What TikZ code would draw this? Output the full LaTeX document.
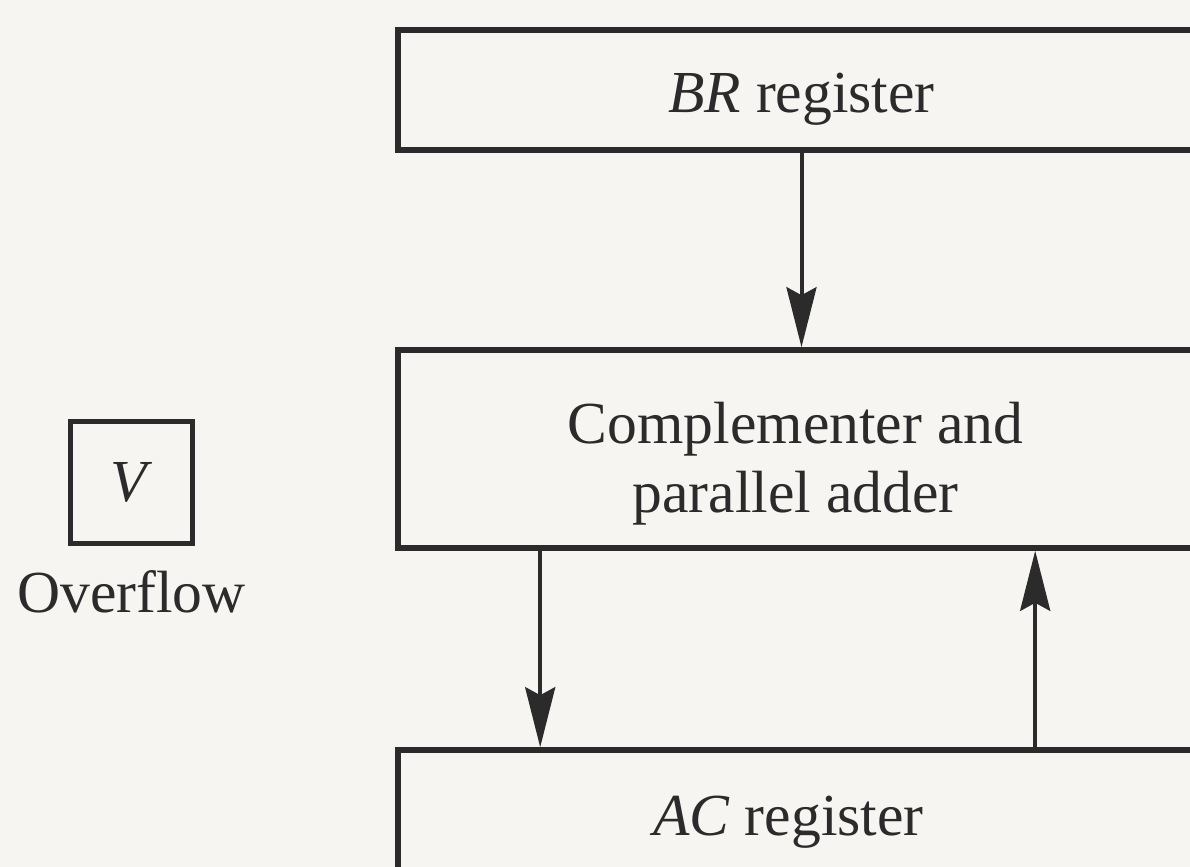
\documentclass[tikz,border=0pt]{standalone}
\usepackage{fontspec}
\setmainfont{Liberation Serif}
\usepackage{xcolor}
\usetikzlibrary{arrows.meta,positioning}
\definecolor{paper}{HTML}{F7F5F2}
\definecolor{ink}{HTML}{2B2B2B}
\newcommand{\Lbl}{\fontsize{29.8}{34.5}\selectfont}

\begin{document}
\begin{tikzpicture}[x=0.5pt,y=-0.5pt, font=\Lbl, text=ink,
    reg/.style={draw=ink,line width=2.8pt,inner sep=0pt,minimum width=403.5pt,align=center},
    flow/.style={draw=ink,line width=2pt,-{Stealth[length=30pt,width=15pt,inset=4pt]}}]
  \path[use as bounding box,fill=paper] (0,0) rectangle (1190,867);
  \clip (0,0) rectangle (1190,867);
  % registers, right side runs off the page
  \node[reg,minimum height=60pt] (br) at (801.5,90) {\raisebox{-11.5pt}[0pt][0pt]{\textit{BR} register}};
  \node[reg,minimum height=99pt] (cpa) at (801.5,449)
    {\raisebox{3pt}[0pt][0pt]{\begin{tabular}[t]{@{}c@{}}Complementer and\\parallel adder\end{tabular}}\hspace*{6pt}};
  \node[reg,minimum height=68pt] (ac) at (801.5,818) {\raisebox{-8.5pt}[0pt][0pt]{\textit{AC} register}\hspace*{13pt}};
  % overflow flip-flop
  \node[draw=ink,line width=2.6pt,minimum size=61pt,inner sep=0pt] (v) at (131.5,482.5) {\textit{V}};
  \node[below=12pt of v,inner sep=0pt] (ovf) {Overflow};
  \draw[flow] (br.south) -- (cpa.north);
  \draw[flow] ([xshift=72.5pt]cpa.south west) -- ([xshift=72.5pt]ac.north west);
  \draw[flow] ([xshift=320pt]ac.north west) -- ([xshift=320pt]cpa.south west);
\end{tikzpicture}
\end{document}
